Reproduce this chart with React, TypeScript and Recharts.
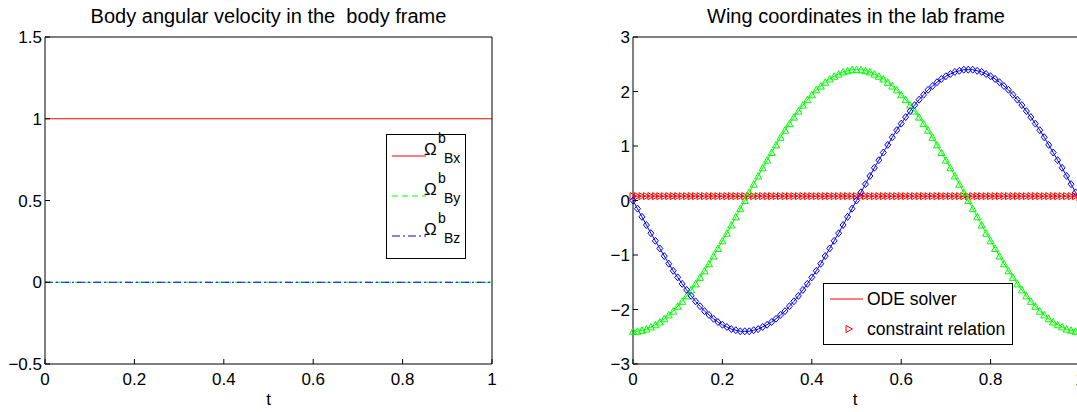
import { LineChart, Line, XAxis, YAxis } from 'recharts';

// sample times (101 samples, 0..1)
const timeSteps = [
  0, 0.01, 0.02, 0.03, 0.04, 0.05, 0.06, 0.07, 0.08, 0.09,
  0.1, 0.11, 0.12, 0.13, 0.14, 0.15, 0.16, 0.17, 0.18, 0.19,
  0.2, 0.21, 0.22, 0.23, 0.24, 0.25, 0.26, 0.27, 0.28, 0.29,
  0.3, 0.31, 0.32, 0.33, 0.34, 0.35, 0.36, 0.37, 0.38, 0.39,
  0.4, 0.41, 0.42, 0.43, 0.44, 0.45, 0.46, 0.47, 0.48, 0.49,
  0.5, 0.51, 0.52, 0.53, 0.54, 0.55, 0.56, 0.57, 0.58, 0.59,
  0.6, 0.61, 0.62, 0.63, 0.64, 0.65, 0.66, 0.67, 0.68, 0.69,
  0.7, 0.71, 0.72, 0.73, 0.74, 0.75, 0.76, 0.77, 0.78, 0.79,
  0.8, 0.81, 0.82, 0.83, 0.84, 0.85, 0.86, 0.87, 0.88, 0.89,
  0.9, 0.91, 0.92, 0.93, 0.94, 0.95, 0.96, 0.97, 0.98, 0.99,
  1,
];

const wingRed = [
  0.08, 0.08, 0.08, 0.08, 0.08, 0.08, 0.08, 0.08, 0.08, 0.08,
  0.08, 0.08, 0.08, 0.08, 0.08, 0.08, 0.08, 0.08, 0.08, 0.08,
  0.08, 0.08, 0.08, 0.08, 0.08, 0.08, 0.08, 0.08, 0.08, 0.08,
  0.08, 0.08, 0.08, 0.08, 0.08, 0.08, 0.08, 0.08, 0.08, 0.08,
  0.08, 0.08, 0.08, 0.08, 0.08, 0.08, 0.08, 0.08, 0.08, 0.08,
  0.08, 0.08, 0.08, 0.08, 0.08, 0.08, 0.08, 0.08, 0.08, 0.08,
  0.08, 0.08, 0.08, 0.08, 0.08, 0.08, 0.08, 0.08, 0.08, 0.08,
  0.08, 0.08, 0.08, 0.08, 0.08, 0.08, 0.08, 0.08, 0.08, 0.08,
  0.08, 0.08, 0.08, 0.08, 0.08, 0.08, 0.08, 0.08, 0.08, 0.08,
  0.08, 0.08, 0.08, 0.08, 0.08, 0.08, 0.08, 0.08, 0.08, 0.08,
  0.08,
];

const wingGreen = [
  -2.4, -2.4, -2.38, -2.36, -2.32, -2.28, -2.23, -2.17, -2.1, -2.03,
  -1.94, -1.85, -1.75, -1.64, -1.53, -1.41, -1.29, -1.16, -1.02, -0.88,
  -0.74, -0.6, -0.45, -0.3, -0.15, 0, 0.15, 0.3, 0.45, 0.6,
  0.74, 0.88, 1.02, 1.16, 1.29, 1.41, 1.53, 1.64, 1.75, 1.85,
  1.94, 2.03, 2.1, 2.17, 2.23, 2.28, 2.32, 2.36, 2.38, 2.4,
  2.4, 2.4, 2.38, 2.36, 2.32, 2.28, 2.23, 2.17, 2.1, 2.03,
  1.94, 1.85, 1.75, 1.64, 1.53, 1.41, 1.29, 1.16, 1.02, 0.88,
  0.74, 0.6, 0.45, 0.3, 0.15, 0, -0.15, -0.3, -0.45, -0.6,
  -0.74, -0.88, -1.02, -1.16, -1.29, -1.41, -1.53, -1.64, -1.75, -1.85,
  -1.94, -2.03, -2.1, -2.17, -2.23, -2.28, -2.32, -2.36, -2.38, -2.4,
  -2.4,
];

const wingBlue = [
  0, -0.15, -0.3, -0.45, -0.6, -0.74, -0.88, -1.02, -1.16, -1.29,
  -1.41, -1.53, -1.64, -1.75, -1.85, -1.94, -2.03, -2.1, -2.17, -2.23,
  -2.28, -2.32, -2.36, -2.38, -2.4, -2.4, -2.4, -2.38, -2.36, -2.32,
  -2.28, -2.23, -2.17, -2.1, -2.03, -1.94, -1.85, -1.75, -1.64, -1.53,
  -1.41, -1.29, -1.16, -1.02, -0.88, -0.74, -0.6, -0.45, -0.3, -0.15,
  0, 0.15, 0.3, 0.45, 0.6, 0.74, 0.88, 1.02, 1.16, 1.29,
  1.41, 1.53, 1.64, 1.75, 1.85, 1.94, 2.03, 2.1, 2.17, 2.23,
  2.28, 2.32, 2.36, 2.38, 2.4, 2.4, 2.4, 2.38, 2.36, 2.32,
  2.28, 2.23, 2.17, 2.1, 2.03, 1.94, 1.85, 1.75, 1.64, 1.53,
  1.41, 1.29, 1.16, 1.02, 0.88, 0.74, 0.6, 0.45, 0.3, 0.15,
  0,
];

const bodyTime = [0, 1];
const omegaBx = [1, 1];
const omegaBy = [0, 0];
const omegaBz = [0, 0];

const xTicks = [0, 0.2, 0.4, 0.6, 0.8, 1];
const bodyTicksY = [-0.5, 0, 0.5, 1, 1.5];
const wingTicksY = [-3, -2, -1, 0, 1, 2, 3];
const omegaSubs = ['Bx', 'By', 'Bz'];

const FONT = '"Liberation Sans", Arial, Helvetica, sans-serif';
const fmt = (v: number) => String(v).replace('-', '\u2212');

const bodyRows = bodyTime.map((t, i) => ({ t, wx: omegaBx[i], wy: omegaBy[i], wz: omegaBz[i] }));
const wingRows = timeSteps.map((t, i) => ({ t, r: wingRed[i], g: wingGreen[i], b: wingBlue[i] }));

const tickStyle = { fill: '#000', fontSize: 17, fontFamily: FONT };
const axisLine = { stroke: '#000', strokeWidth: 1 };

// matlab-style markers: 'r>', 'g^', 'bd'
const rightTri = (p: any) => (
  <path key={`r${p.index}`} d={`M${p.cx - 3},${p.cy - 3.5}L${p.cx + 3.5},${p.cy}L${p.cx - 3},${p.cy + 3.5}Z`}
    fill="none" stroke="#ff0000" strokeWidth={1} />
);
const upTri = (p: any) => (
  <path key={`g${p.index}`} d={`M${p.cx - 3.5},${p.cy + 3}L${p.cx},${p.cy - 3.5}L${p.cx + 3.5},${p.cy + 3}Z`}
    fill="none" stroke="#00ff00" strokeWidth={1} />
);
const diamond = (p: any) => (
  <path key={`b${p.index}`} d={`M${p.cx},${p.cy - 3.5}L${p.cx + 3},${p.cy}L${p.cx},${p.cy + 3.5}L${p.cx - 3},${p.cy}Z`}
    fill="none" stroke="#0000ff" strokeWidth={1} />
);

export default function App() {
  return (
    <div style={{ position: 'absolute', left: 0, top: 0, width: 1077, height: 412, overflow: 'hidden', background: '#fff' }}>
      <div style={{ position: 'absolute', left: 0, top: 0 }}>
        <LineChart width={540} height={412} data={bodyRows} margin={{ top: 7, right: 0, bottom: 18, left: 5 }}>
          <XAxis xAxisId="b" dataKey="t" type="number" domain={[0, 1]} ticks={xTicks} tickFormatter={fmt}
            tick={tickStyle} axisLine={axisLine} tickLine={axisLine} tickSize={-5} tickMargin={14} height={30} interval={0} />
          <XAxis xAxisId="top" orientation="top" type="number" domain={[0, 1]} ticks={xTicks}
            tick={false} axisLine={axisLine} tickLine={axisLine} tickSize={-5} height={30} interval={0} />
          <YAxis yAxisId="l" type="number" domain={[-0.5, 1.5]} ticks={bodyTicksY} tickFormatter={fmt}
            tick={tickStyle} axisLine={axisLine} tickLine={axisLine} tickSize={-5} tickMargin={8} width={40} interval={0} />
          <YAxis yAxisId="r" orientation="right" type="number" domain={[-0.5, 1.5]} ticks={bodyTicksY}
            tick={false} axisLine={axisLine} tickLine={axisLine} tickSize={-5} width={48} interval={0} />
          <Line xAxisId="b" yAxisId="l" dataKey="wx" stroke="#ff0000" strokeWidth={1} dot={false} activeDot={false} isAnimationActive={false} />
          <Line xAxisId="b" yAxisId="l" dataKey="wy" stroke="#00ff00" strokeWidth={1} strokeDasharray="6 4" dot={false} activeDot={false} isAnimationActive={false} />
          <Line xAxisId="b" yAxisId="l" dataKey="wz" stroke="#0000ff" strokeWidth={1} strokeDasharray="8 3 2 3" dot={false} activeDot={false} isAnimationActive={false} />
        </LineChart>
      </div>
      <div style={{ position: 'absolute', left: 540, top: 0 }}>
        <LineChart width={560} height={412} data={wingRows} margin={{ top: 7, right: 0, bottom: 18, left: 53 }}>
          <XAxis xAxisId="b" dataKey="t" type="number" domain={[0, 1]} ticks={xTicks} tickFormatter={fmt}
            tick={tickStyle} axisLine={axisLine} tickLine={axisLine} tickSize={-5} tickMargin={14} height={30} interval={0} />
          <XAxis xAxisId="top" orientation="top" type="number" domain={[0, 1]} ticks={xTicks}
            tick={false} axisLine={axisLine} tickLine={axisLine} tickSize={-5} height={30} interval={0} />
          <YAxis yAxisId="l" type="number" domain={[-3, 3]} ticks={wingTicksY} tickFormatter={fmt}
            tick={tickStyle} axisLine={axisLine} tickLine={axisLine} tickSize={-5} tickMargin={8} width={40} interval={0} />
          <YAxis yAxisId="r" orientation="right" type="number" domain={[-3, 3]} ticks={wingTicksY}
            tick={false} axisLine={axisLine} tickLine={axisLine} tickSize={-5} width={20} interval={0} />
          <Line xAxisId="b" yAxisId="l" dataKey="r" stroke="#ff0000" strokeWidth={1} dot={rightTri} activeDot={false} isAnimationActive={false} />
          <Line xAxisId="b" yAxisId="l" dataKey="g" stroke="#00ff00" strokeWidth={1} dot={upTri} activeDot={false} isAnimationActive={false} />
          <Line xAxisId="b" yAxisId="l" dataKey="b" stroke="#0000ff" strokeWidth={1} dot={diamond} activeDot={false} isAnimationActive={false} />
        </LineChart>
      </div>
      <svg width={1077} height={412} style={{ position: 'absolute', left: 0, top: 0, pointerEvents: 'none' }}
        fontFamily={FONT} fill="#000">
        <text x={268.5} y={23} fontSize={20} textAnchor="middle" style={{ whiteSpace: 'pre' }}>
          Body angular velocity in the  body frame
        </text>
        <text x={856} y={23} fontSize={20} textAnchor="middle">Wing coordinates in the lab frame</text>
        <text x={268.5} y={405} fontSize={17} textAnchor="middle">t</text>
        <text x={855} y={405} fontSize={17} textAnchor="middle">t</text>

        <rect x={386.5} y={134.5} width={79} height={124} fill="#fff" stroke="#000" strokeWidth={1} />
        <line x1={392} x2={426} y1={156} y2={156} stroke="#ff0000" strokeWidth={1.2} />
        <line x1={392} x2={426} y1={196} y2={196} stroke="#00ff00" strokeWidth={1} strokeDasharray="6 4" />
        <line x1={392} x2={426} y1={236} y2={236} stroke="#0000ff" strokeWidth={1} strokeDasharray="8 3 2 3" />
        {omegaSubs.map((s, i) => (
          <g key={s}>
            <text x={424} y={155 + i * 40} fontSize={17}>Ω</text>
            <text x={438} y={143 + i * 40} fontSize={14}>b</text>
            <text x={444} y={163 + i * 40} fontSize={14}>{s}</text>
          </g>
        ))}

        <rect x={823.5} y={283.5} width={189} height={61} fill="#fff" stroke="#000" strokeWidth={1} />
        <line x1={830} x2={863} y1={299} y2={299} stroke="#ff0000" strokeWidth={1.2} />
        <text x={867} y={305} fontSize={17.5}>ODE solver</text>
        <path d="M846,325.5L852.5,329L846,332.5Z" fill="none" stroke="#ff0000" strokeWidth={1} />
        <text x={867} y={335} fontSize={17.5}>constraint relation</text>
      </svg>
    </div>
  );
}
